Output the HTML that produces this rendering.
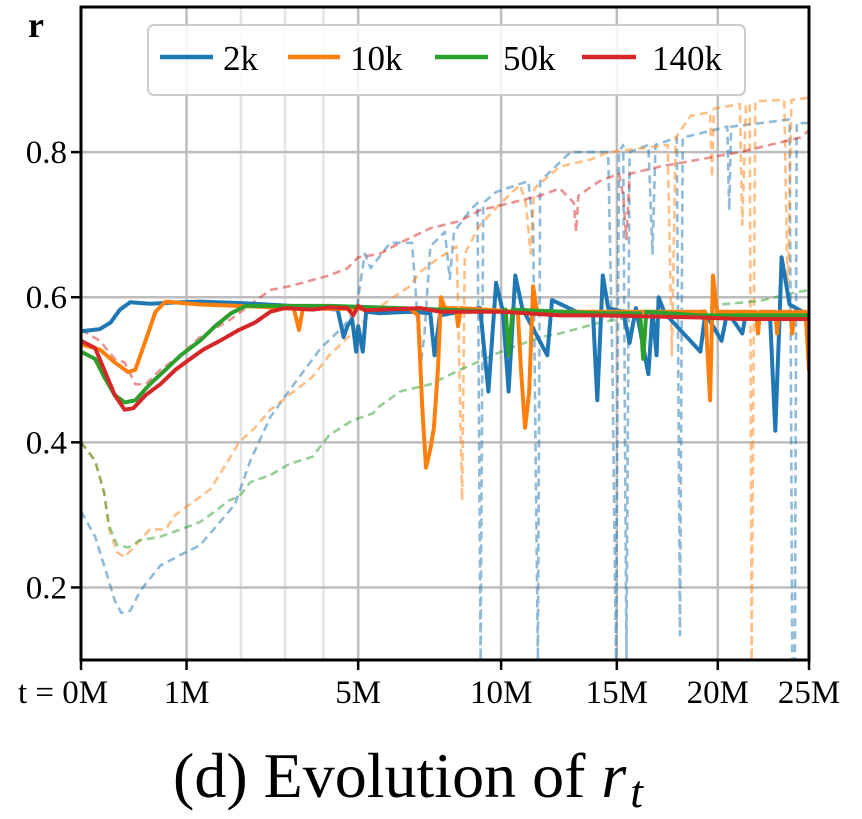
<!DOCTYPE html>
<html><head><meta charset="utf-8"><style>
html,body{margin:0;padding:0;background:#fff;}
svg{display:block;font-family:"Liberation Serif",serif;}
text{font-family:"Liberation Serif",serif;}
</style></head><body>
<svg id="chart" width="862" height="819" viewBox="0 0 862 819" xmlns="http://www.w3.org/2000/svg">
<g id="grid"></g>
<g id="dashed"></g>
<g id="solid"></g>
<g id="axes"></g>
<g>
<rect x="148" y="25" width="597" height="70" rx="6" fill="#fff" fill-opacity="0.85" stroke="#ccc" stroke-width="2"/>
<line x1="160" y1="57" x2="213" y2="57" stroke="#1f77b4" stroke-width="4.5"/>
<text x="223" y="70" font-size="35">2k</text>
<line x1="288" y1="57" x2="340" y2="57" stroke="#ff7f0e" stroke-width="4.5"/>
<text x="350" y="70" font-size="35">10k</text>
<line x1="435" y1="57" x2="488" y2="57" stroke="#2ca02c" stroke-width="4.5"/>
<text x="503" y="70" font-size="35">50k</text>
<line x1="582" y1="57" x2="636" y2="57" stroke="#d62728" stroke-width="4.5"/>
<text x="652" y="70" font-size="35">140k</text>
</g>
<text x="28" y="37" font-size="36" font-weight="bold">r</text>
<text x="173" y="797" font-size="64">(d) Evolution of <tspan font-style="italic">r</tspan><tspan font-style="italic" font-size="46" dy="10" dx="4">t</tspan></text>
</svg>
<script>
const yTicks=[0.2,0.4,0.6,0.8];
const yTickLabels=["0.2","0.4","0.6","0.8"];
const xTicks=[0,1,5,10,15,20,25];
const xTickLabels=["t = 0M","1M","5M","10M","15M","20M","25M"];
const xMinor=[2,3,4];

const blueDashT=[0,0.035,0.08,0.15,0.2,0.28,0.38,0.62,0.91,1.22,1.58,1.88,2.2,2.65,3.22,3.93,4.57,4.97,5.0,5.2,5.38,6.0,6.72,6.86,7.0,7.15,7.35,7.87,8.05,8.2,8.8,9.08,9.2,9.3,9.8,11.1,11.3,11.5,11.6,12.9,14.6,14.8,14.96,15.1,15.3,15.45,15.6,16.5,16.7,16.85,17.9,18.06,18.2,20.5,20.6,20.7,23.9,24.05,24.2,24.3,25];
const blueDashR=[0.305,0.27,0.23,0.182,0.165,0.168,0.195,0.23,0.245,0.258,0.29,0.315,0.375,0.435,0.48,0.53,0.56,0.585,0.6,0.66,0.64,0.675,0.675,0.6,0.5,0.55,0.67,0.69,0.625,0.69,0.72,0.73,0.1,0.73,0.745,0.76,0.7,0.1,0.76,0.8,0.8,0.5,0.1,0.8,0.81,0.1,0.8,0.81,0.66,0.81,0.82,0.134,0.82,0.835,0.72,0.835,0.845,0.1,0.1,0.84,0.84];
const orangeDashT=[0,0.035,0.08,0.11,0.17,0.23,0.33,0.49,0.69,0.83,1.14,1.4,1.7,1.96,2.3,2.65,3.1,3.7,4.16,4.82,5.45,6.1,6.65,7.0,7.69,8.3,8.4,8.5,8.6,9.18,10.0,10.76,11.0,11.2,11.35,12.44,13.8,14.6,16.1,17.45,17.65,17.85,18.6,19.6,19.7,19.8,21.17,21.3,21.5,21.7,21.8,22.0,23.6,23.8,24.0,25];
const orangeDashR=[0.4,0.375,0.33,0.28,0.248,0.242,0.258,0.28,0.28,0.3,0.32,0.335,0.37,0.4,0.42,0.445,0.465,0.49,0.52,0.55,0.58,0.6,0.615,0.635,0.655,0.67,0.5,0.32,0.66,0.7,0.73,0.755,0.73,0.66,0.75,0.78,0.79,0.8,0.805,0.81,0.52,0.82,0.85,0.855,0.765,0.86,0.866,0.7,0.866,0.866,0.1,0.87,0.872,0.6,0.872,0.875];
const greenDashT=[0,0.035,0.08,0.11,0.17,0.26,0.38,0.62,0.91,1.22,1.49,1.76,1.96,2.2,2.65,3.1,3.7,4.16,4.82,5.45,5.67,6.32,7.35,8.42,10.0,11.6,12.44,14.2,16.1,17.06,19.08,20.1,22.26,23.9,25];
const greenDashR=[0.4,0.375,0.33,0.285,0.258,0.255,0.265,0.27,0.28,0.29,0.305,0.32,0.325,0.345,0.355,0.37,0.38,0.41,0.43,0.44,0.45,0.47,0.48,0.5,0.525,0.545,0.55,0.565,0.575,0.58,0.58,0.59,0.595,0.605,0.61];
const redDashT=[0,0.057,0.15,0.23,0.33,0.44,0.62,0.91,1.22,1.8,2.2,2.65,3.1,3.45,4.16,4.68,5.0,5.67,6.32,7.35,8.42,9.18,10.38,11.6,12.44,13.05,13.15,13.25,14.2,15.1,15.3,15.45,15.6,17.06,19.08,20.1,21.17,22.8,24.49,25];
const redDashR=[0.555,0.54,0.515,0.51,0.48,0.48,0.5,0.52,0.545,0.57,0.59,0.61,0.615,0.62,0.63,0.64,0.655,0.66,0.675,0.695,0.705,0.72,0.73,0.74,0.75,0.73,0.69,0.74,0.76,0.77,0.74,0.68,0.77,0.78,0.79,0.795,0.8,0.81,0.82,0.83];

const blueT=[0,0.057,0.12,0.19,0.28,0.49,0.91,1.22,1.96,2.89,3.93,4.4,4.57,4.68,4.82,4.94,5.0,5.14,5.24,5.67,6.65,7.35,7.5,7.69,9.18,9.5,9.8,10.07,10.3,10.57,10.85,11.9,12.1,13.3,13.9,14.1,14.35,14.6,15.3,15.6,15.9,16.5,16.7,16.9,17.0,17.3,19.1,19.35,20.2,20.5,21.3,21.5,22.8,23.1,23.35,23.45,23.9,25];
const blueR=[0.553,0.556,0.565,0.583,0.593,0.591,0.593,0.594,0.592,0.589,0.585,0.583,0.545,0.56,0.57,0.525,0.56,0.525,0.58,0.578,0.58,0.578,0.52,0.575,0.585,0.47,0.62,0.58,0.47,0.63,0.585,0.52,0.596,0.578,0.58,0.458,0.63,0.585,0.58,0.537,0.585,0.494,0.58,0.52,0.6,0.578,0.525,0.578,0.54,0.58,0.55,0.578,0.578,0.416,0.58,0.655,0.59,0.575];
const orangeT=[0,0.057,0.15,0.26,0.33,0.44,0.56,0.69,1.22,2.41,3.22,3.35,3.45,6.65,6.93,7.07,7.2,7.35,7.48,7.62,7.73,7.87,8.27,8.35,8.46,10.67,10.8,10.97,11.14,11.3,11.47,19.35,19.6,19.75,19.95,22.04,22.15,22.26,23.1,23.2,23.3,23.95,24.05,24.16,24.8,25];
const orangeR=[0.535,0.528,0.51,0.497,0.5,0.54,0.58,0.594,0.59,0.587,0.584,0.555,0.584,0.584,0.575,0.45,0.365,0.39,0.42,0.5,0.6,0.585,0.585,0.56,0.585,0.58,0.5,0.42,0.47,0.615,0.58,0.58,0.458,0.63,0.58,0.58,0.55,0.58,0.58,0.55,0.58,0.58,0.55,0.58,0.58,0.5];
const greenT=[0,0.035,0.08,0.15,0.23,0.33,0.49,0.69,0.91,1.22,1.49,1.8,2.1,2.89,4.16,6.32,10.0,10.18,10.3,10.46,14.2,16.1,16.25,16.4,19.08,25];
const greenR=[0.525,0.515,0.49,0.465,0.455,0.458,0.48,0.5,0.52,0.54,0.56,0.578,0.588,0.588,0.588,0.585,0.58,0.583,0.52,0.583,0.578,0.578,0.515,0.58,0.575,0.575];
const redT=[0,0.035,0.08,0.15,0.23,0.31,0.44,0.62,0.83,1.06,1.28,1.58,1.96,2.3,2.65,3.0,3.7,4.16,4.68,4.85,5.0,5.2,7.0,7.69,10.0,12.44,14.2,19.08,21.17,25];
const redR=[0.54,0.53,0.5,0.465,0.445,0.447,0.465,0.48,0.5,0.515,0.528,0.54,0.555,0.565,0.58,0.585,0.583,0.586,0.585,0.575,0.588,0.582,0.585,0.58,0.58,0.575,0.575,0.572,0.57,0.57];

const X0=81,X1=809,YB=660,YT=7,YMIN=0.1,YMAX=1.0;
function xs(t){return X0+(X1-X0)*Math.pow(Math.max(t,0)/25,0.6);}
function ys(r){return YB-(r-YMIN)/(YMAX-YMIN)*(YB-YT);}
const NS="http://www.w3.org/2000/svg";
function mk(tag,attrs,parent){const e=document.createElementNS(NS,tag);for(const k in attrs)e.setAttribute(k,attrs[k]);parent.appendChild(e);return e;}

const svg=document.getElementById('chart');
const defs=mk('defs',{},svg);
const cp=mk('clipPath',{id:'plotclip'},defs);
mk('rect',{x:X0,y:YT,width:X1-X0,height:YB-YT},cp);

const grid=document.getElementById('grid');
xMinor.forEach(t=>{
  const l=mk('line',{x1:xs(t),x2:xs(t),y1:YT,y2:YB,stroke:'#e4e4e4','stroke-width':2.5},grid);
  
  
});
xTicks.forEach(t=>{
  const l=mk('line',{x1:xs(t),x2:xs(t),y1:YT,y2:YB,stroke:'#bdbdbd','stroke-width':2.5},grid);
  
  
});
yTicks.forEach(v=>{
  const l=mk('line',{x1:X0,x2:X1,y1:ys(v),y2:ys(v),stroke:'#bdbdbd','stroke-width':2.5},grid);
  
  
});

function path(T,R){return T.map((t,i)=>(i?'L':'M')+xs(t).toFixed(1)+','+ys(R[i]).toFixed(1)).join(' ');}
const dg=document.getElementById('dashed');
dg.setAttribute('clip-path','url(#plotclip)');
[[blueDashT,blueDashR,'#1f77b4','dashed-2k'],[orangeDashT,orangeDashR,'#ff7f0e','dashed-10k'],[greenDashT,greenDashR,'#2ca02c','dashed-50k'],[redDashT,redDashR,'#d62728','dashed-140k']].forEach(s=>{
  const p=mk('path',{d:path(s[0],s[1]),fill:'none',stroke:s[2],'stroke-width':2.6,'stroke-opacity':0.5,'stroke-dasharray':'8,5','stroke-linejoin':'round'},dg);
  
  
});
const sg=document.getElementById('solid');
sg.setAttribute('clip-path','url(#plotclip)');
[[blueT,blueR,'#1f77b4','line-2k'],[orangeT,orangeR,'#ff7f0e','line-10k'],[greenT,greenR,'#2ca02c','line-50k'],[redT,redR,'#d62728','line-140k']].forEach(s=>{
  const p=mk('path',{d:path(s[0],s[1]),fill:'none',stroke:s[2],'stroke-width':4,'stroke-linejoin':'round','stroke-linecap':'round'},sg);
  
  
});

const ax=document.getElementById('axes');
const fr=mk('rect',{x:X0,y:YT,width:X1-X0,height:YB-YT,fill:'none',stroke:'#000','stroke-width':3},ax);


yTicks.forEach((v,i)=>{
  const tk=mk('line',{x1:X0-10,x2:X0,y1:ys(v),y2:ys(v),stroke:'#000','stroke-width':2.5},ax);
  
  
  const tx=mk('text',{x:X0-14,y:ys(v)+11,'text-anchor':'end','font-size':33},ax);
  tx.textContent=yTickLabels[i];
  
  
});
xTicks.forEach((t,i)=>{
  const tk=mk('line',{x1:xs(t),x2:xs(t),y1:YB,y2:YB+10,stroke:'#000','stroke-width':2.5},ax);
  
  
  const first=i===0;
  const tx=mk('text',{x:first?18:xs(t),y:YB+43,'text-anchor':first?'start':'middle','font-size':33},ax);
  tx.textContent=xTickLabels[i];
  
  
});
</script>
</body></html>
